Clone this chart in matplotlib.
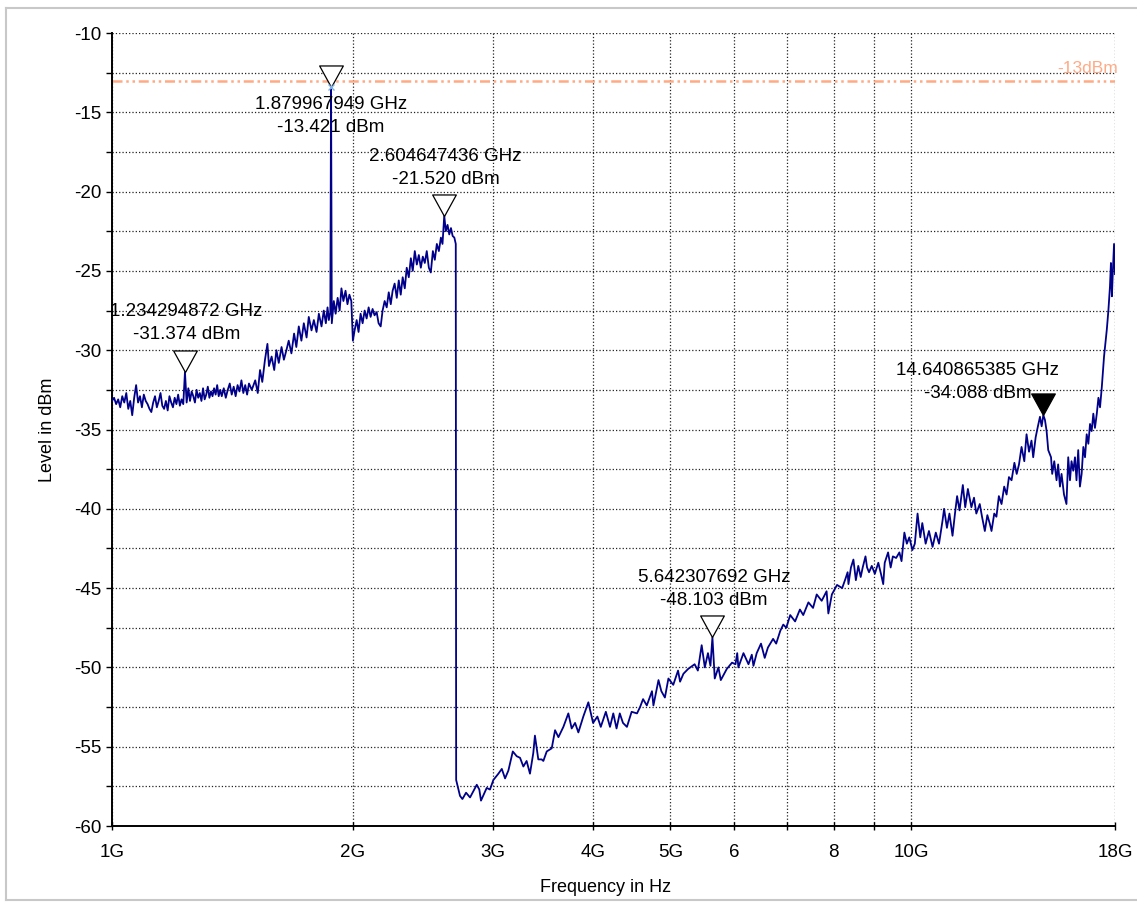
import matplotlib
matplotlib.use("Agg")
import matplotlib.pyplot as plt
from matplotlib.path import Path
from matplotlib.lines import Line2D
from matplotlib.ticker import FixedLocator, FixedFormatter, MultipleLocator

plt.rcParams["font.family"] = ["Liberation Sans", "DejaVu Sans"]
plt.rcParams["axes.unicode_minus"] = False

# ----- trace below the 2.7 GHz edge (GHz, dBm) -----
LOW_GHZ = [
    1.000, 1.006, 1.012, 1.018, 1.024, 1.030, 1.036, 1.042, 1.048, 1.054,
    1.060, 1.066, 1.072, 1.078, 1.084, 1.090, 1.096, 1.102, 1.108, 1.114,
    1.120, 1.126, 1.132, 1.138, 1.144, 1.150, 1.156, 1.162, 1.168, 1.174,
    1.180, 1.186, 1.192, 1.198, 1.204, 1.210, 1.216, 1.222, 1.228, 1.234,
    1.240, 1.246, 1.252, 1.258, 1.264, 1.270, 1.276, 1.282, 1.288, 1.294,
    1.300, 1.306, 1.312, 1.318, 1.324, 1.330, 1.336, 1.342, 1.348, 1.354,
    1.360, 1.366, 1.372, 1.380, 1.388, 1.396, 1.404, 1.412, 1.420, 1.428,
    1.436, 1.444, 1.452, 1.460, 1.468, 1.476, 1.484, 1.496, 1.511, 1.522,
    1.532, 1.542, 1.554, 1.565, 1.572, 1.584, 1.596, 1.606, 1.617, 1.630,
    1.641, 1.653, 1.664, 1.677, 1.690, 1.701, 1.713, 1.726, 1.738, 1.752,
    1.763, 1.777, 1.789, 1.803, 1.815, 1.829, 1.841, 1.852, 1.861, 1.868,
    1.876, 1.880, 1.884, 1.895, 1.905, 1.916, 1.927, 1.937, 1.948, 1.960,
    1.971, 1.982, 1.993, 2.002, 2.012, 2.024, 2.035, 2.047, 2.059, 2.071,
    2.083, 2.095, 2.107, 2.119, 2.131, 2.144, 2.156, 2.169, 2.181, 2.194,
    2.207, 2.220, 2.233, 2.245, 2.258, 2.272, 2.285, 2.298, 2.311, 2.325,
    2.338, 2.352, 2.366, 2.379, 2.393, 2.407, 2.421, 2.435, 2.449, 2.463,
    2.477, 2.492, 2.506, 2.521, 2.535, 2.550, 2.565, 2.580, 2.592, 2.605,
    2.617, 2.630, 2.643, 2.656, 2.669, 2.682, 2.693,
]
LOW_DBM = [
    -33.2, -33.0, -33.4, -33.1, -33.6, -32.9, -33.3, -32.7, -33.7, -33.2,
    -34.1, -33.0, -32.2, -33.3, -32.9, -33.6, -32.8, -33.2, -33.4, -33.7,
    -33.9, -33.3, -32.9, -33.6, -33.2, -32.7, -33.5, -33.7, -33.2, -33.8,
    -32.9, -33.3, -33.6, -33.0, -33.4, -32.8, -33.5, -33.1, -33.4, -31.374,
    -33.3, -32.4, -33.2, -32.6, -32.9, -33.3, -32.5, -33.0, -32.7, -33.2,
    -32.4, -33.1, -32.8, -32.3, -33.0, -32.6, -32.9, -32.4, -32.8, -32.2,
    -32.9, -32.5, -32.9, -32.4, -33.0, -32.5, -32.1, -32.8, -32.3, -32.9,
    -32.2, -32.6, -31.9, -32.7, -32.2, -32.8, -32.1, -32.5, -31.9, -32.7,
    -31.25, -32.0, -30.6, -29.6, -31.0, -30.4, -31.25, -30.0, -30.8, -29.8,
    -30.6, -30.0, -29.4, -30.2, -28.95, -29.8, -28.5, -29.4, -28.3, -29.2,
    -27.9, -28.75, -28.1, -28.85, -27.7, -28.5, -27.5, -28.3, -27.3, -28.1,
    -27.6, -13.421, -28.3, -26.9, -27.7, -26.7, -27.5, -26.1, -26.9, -26.25,
    -27.1, -26.5, -26.9, -29.4, -28.75, -28.1, -28.85, -27.7, -28.3, -27.5,
    -28.0, -27.3, -27.9, -27.4, -27.8, -27.6, -28.3, -28.5, -27.5, -26.9,
    -27.3, -26.35, -27.1, -26.25, -25.8, -26.7, -25.6, -26.5, -25.4, -26.1,
    -24.8, -25.4, -24.2, -25.0, -23.75, -24.6, -24.0, -24.8, -24.1, -24.5,
    -23.75, -24.8, -25.1, -23.75, -24.3, -23.3, -23.75, -22.9, -23.3, -21.52,
    -22.5, -22.1, -22.7, -22.3, -22.8, -22.9, -23.3,
]

# ----- trace above the edge -----
HIGH_GHZ = [
    2.696, 2.726, 2.745, 2.774, 2.806, 2.847, 2.861, 2.882, 2.896, 2.944,
    2.972, 3.001, 3.045, 3.075, 3.104, 3.134, 3.174, 3.210, 3.241, 3.272,
    3.303, 3.335, 3.367, 3.383, 3.416, 3.449, 3.466, 3.500, 3.551, 3.585,
    3.620, 3.672, 3.725, 3.761, 3.798, 3.834, 3.889, 3.946, 3.984, 4.00,
    4.05, 4.09, 4.15, 4.20, 4.24, 4.28, 4.32, 4.36, 4.41, 4.47,
    4.54, 4.58, 4.62, 4.67, 4.74, 4.76, 4.83, 4.87, 4.92, 4.97,
    5.04, 5.11, 5.14, 5.19, 5.26, 5.36, 5.41, 5.47, 5.52, 5.57,
    5.61, 5.642, 5.68, 5.74, 5.78, 5.88, 5.97, 6.03, 6.06, 6.08,
    6.17, 6.26, 6.32, 6.35, 6.41, 6.49, 6.56, 6.62, 6.72, 6.78,
    6.86, 6.92, 6.98, 7.06, 7.16, 7.26, 7.33, 7.44, 7.54, 7.62,
    7.73, 7.84, 7.88, 7.96, 8.08, 8.20, 8.28, 8.33, 8.35, 8.41,
    8.47, 8.53, 8.59, 8.65, 8.70, 8.77, 8.81, 8.86, 8.93, 9.01,
    9.10, 9.17, 9.23, 9.27, 9.36, 9.43, 9.49, 9.58, 9.67, 9.73,
    9.81, 9.88, 9.95, 10.04, 10.11, 10.19, 10.27, 10.33, 10.43, 10.53,
    10.64, 10.74, 10.84, 10.95, 11.00, 11.09, 11.17, 11.27, 11.35, 11.42,
    11.50, 11.61, 11.69, 11.78, 11.90, 11.99, 12.07, 12.19, 12.27, 12.37,
    12.46, 12.55, 12.61, 12.71, 12.79, 12.88, 12.98, 13.08, 13.17, 13.26,
    13.36, 13.47, 13.56, 13.65, 13.75, 13.86, 13.95, 14.05, 14.15, 14.22,
    14.32, 14.40, 14.50, 14.57, 14.641, 14.71, 14.78, 14.85, 14.97, 15.02,
    15.11, 15.21, 15.28, 15.36, 15.43, 15.54, 15.65, 15.73, 15.81, 15.88,
    15.96, 16.04, 16.11, 16.19, 16.27, 16.35, 16.43, 16.51, 16.59, 16.67,
    16.75, 16.83, 16.91, 16.99, 17.08, 17.16, 17.24, 17.33, 17.44, 17.58,
    17.66, 17.74, 17.79, 17.84, 17.89, 17.95, 18.00,
]
HIGH_DBM = [
    -57.1, -58.1, -58.3, -57.9, -58.2, -57.6, -57.4, -57.7, -58.4, -57.6,
    -57.7, -57.1, -56.7, -56.4, -57.0, -56.5, -55.3, -55.6, -55.7, -56.25,
    -55.9, -56.7, -55.4, -54.3, -55.8, -55.8, -55.9, -55.3, -55.1, -53.96,
    -54.4, -53.75, -52.9, -53.85, -53.5, -54.1, -53.1, -52.2, -53.1, -53.5,
    -53.1, -53.75, -52.8, -53.75, -52.9, -53.85, -52.9, -53.5, -53.75, -52.8,
    -52.9, -52.5, -52.0, -52.4, -51.5, -52.4, -50.8, -51.5, -51.9, -50.7,
    -51.1, -50.2, -50.9, -50.4, -50.1, -49.8, -50.2, -48.6, -50.0, -49.1,
    -49.9, -48.103, -50.7, -50.0, -50.8, -50.1, -49.7, -49.8, -49.1, -50.0,
    -49.1, -49.8, -49.2, -49.9, -49.1, -48.5, -49.4, -48.75, -48.2, -48.5,
    -47.7, -47.3, -47.5, -46.7, -47.1, -46.35, -46.7, -45.9, -46.25, -45.4,
    -45.8, -45.2, -46.6, -45.4, -44.8, -45.0, -44.4, -44.0, -44.75, -43.7,
    -43.2, -44.5, -43.6, -44.3, -43.7, -43.0, -43.7, -44.0, -43.6, -44.1,
    -43.4, -44.1, -44.75, -43.4, -42.75, -43.7, -43.0, -43.1, -42.75, -43.3,
    -41.5, -42.2, -41.8, -42.6, -42.2, -40.3, -41.8, -40.9, -42.2, -41.4,
    -42.4, -41.5, -42.2, -40.75, -40.0, -41.2, -40.3, -41.7, -40.3, -39.2,
    -40.1, -38.5, -39.9, -38.75, -39.9, -39.3, -40.3, -39.7, -40.5, -41.4,
    -40.4, -40.95, -41.4, -40.3, -40.5, -39.2, -39.7, -38.6, -39.1, -38.0,
    -38.2, -37.1, -37.8, -37.2, -36.1, -37.0, -35.3, -36.4, -35.7, -36.75,
    -35.5, -34.9, -34.2, -34.8, -34.088, -34.4, -35.1, -36.3, -36.75, -37.8,
    -37.0, -38.2, -37.2, -38.6, -37.8, -39.1, -39.7, -36.75, -38.2, -37.0,
    -37.6, -36.75, -38.2, -36.3, -38.6, -37.8, -36.1, -36.75, -35.3, -35.9,
    -34.65, -35.1, -34.0, -34.9, -34.0, -33.0, -33.6, -32.3, -30.4, -28.7,
    -27.5, -26.0, -24.5, -26.6, -25.0, -23.3, -25.2,
]

# ----- markers -----
MARKER_GHZ = [1.879967949, 2.604647436, 1.234294872, 5.642307692, 14.640865385]
MARKER_DBM = [-13.421, -21.520, -31.374, -48.103, -34.088]
MARKER_ACTIVE = [False, False, False, False, True]
# label offset from the marker tip, in points
LABEL_OFFSETS = [(0, -20.5), (1, 34.5), (1, 35.5), (1, 35), (-47.5, 24)]

LIMIT_DBM = -13.0
LIMIT_LABEL = "-13dBm"

XTICKS = [1, 2, 3, 4, 5, 6, 7, 8, 9, 10, 18]
XTICK_LABELS = ["1G", "2G", "3G", "4G", "5G", "6", "", "8", "", "10G", "18G"]

TRACE_COLOR = "#00008B"
LIMIT_COLOR = "#FFAA85"

W, H = 1137, 902


def main() -> None:
    fig = plt.figure(figsize=(W / 100, H / 100), dpi=100)
    ax = fig.add_axes([112 / W, 1 - 826 / H, (1115 - 112) / W, (826 - 33) / H])

    ax.plot(LOW_GHZ + HIGH_GHZ, LOW_DBM + HIGH_DBM, color=TRACE_COLOR,
            linewidth=1.3, zorder=3)

    # limit line
    ax.axhline(LIMIT_DBM, color=LIMIT_COLOR, linewidth=1.8,
               dashes=(4, 1.5, 1, 1.5, 1, 1.5), zorder=2)
    ax.annotate(LIMIT_LABEL, xy=(1.0, LIMIT_DBM),
                xycoords=("axes fraction", "data"),
                xytext=(2, 8.5), textcoords="offset points",
                ha="right", va="center", fontsize=12.5, color=LIMIT_COLOR,
                annotation_clip=False)

    # marker triangles with the tip on the trace
    tri = Path([(0, 0), (-0.55, 1), (0.55, 1), (0, 0)],
               [Path.MOVETO, Path.LINETO, Path.LINETO, Path.CLOSEPOLY])
    for f, lvl, active, (dx, dy) in zip(MARKER_GHZ, MARKER_DBM,
                                         MARKER_ACTIVE, LABEL_OFFSETS):
        ax.plot([f], [lvl], marker=tri, markersize=31,
                markerfacecolor="black" if active else "white",
                markeredgecolor="black", markeredgewidth=0.9,
                linestyle="none", zorder=5)
        ax.annotate(f"{f:.9f} GHz\n{lvl:.3f} dBm", xy=(f, lvl),
                    xytext=(dx, dy), textcoords="offset points",
                    ha="center", va="center", fontsize=13.5,
                    linespacing=1.45, zorder=6)
    ax.plot([MARKER_GHZ[0]], [MARKER_DBM[0]], marker="x", markersize=4,
            color="#7FB2E5", markeredgewidth=1, linestyle="none", zorder=6)

    ax.set_xscale("log")
    ax.set_xlim(1, 18)
    ax.set_ylim(-60, -10)
    ax.xaxis.set_major_locator(FixedLocator(XTICKS))
    ax.xaxis.set_major_formatter(FixedFormatter(XTICK_LABELS))
    ax.xaxis.set_minor_locator(FixedLocator([]))
    ax.yaxis.set_major_locator(MultipleLocator(5))
    ax.yaxis.set_minor_locator(MultipleLocator(2.5))

    ax.tick_params(axis="x", which="major", direction="inout", length=6,
                   width=1, labelsize=13.5, pad=10)
    ax.tick_params(axis="y", which="both", direction="out", length=4.5,
                   width=1, labelsize=13.5, pad=3)

    ax.grid(which="both", linestyle=":", color="#222222", linewidth=0.9)
    ax.set_axisbelow(True)
    for side in ("top", "right"):
        ax.spines[side].set_visible(False)
    for side in ("left", "bottom"):
        ax.spines[side].set_linewidth(1.4)

    fig.text(47 / W, 1 - 430 / H, "Level in dBm", rotation=90,
             ha="center", va="center", fontsize=13)
    fig.text(606 / W, 1 - 887 / H, "Frequency in Hz",
             ha="center", va="center", fontsize=13)

    # light frame around the whole picture
    for xs, ys in [((6 / W, 1.0), (1 - 8 / H, 1 - 8 / H)),
                   ((6 / W, 6 / W), (1 - 8 / H, 2 / H)),
                   ((6 / W, 1.0), (2 / H, 2 / H))]:
        fig.add_artist(Line2D(xs, ys, color="#C8C8C8", linewidth=1.5))

    fig.savefig("out.png", dpi=100)


if __name__ == "__main__":
    main()
